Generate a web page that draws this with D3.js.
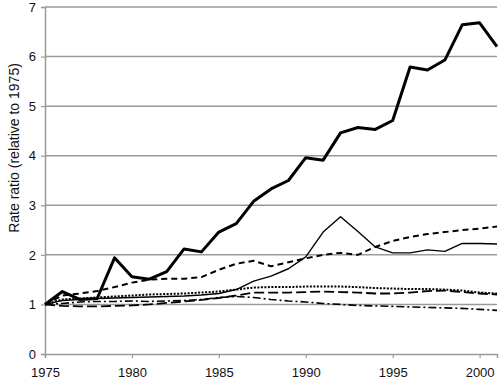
<!DOCTYPE html>
<html>
<head>
<meta charset="utf-8">
<script src="https://cdn.jsdelivr.net/npm/d3@7"></script>
<style>
  body { margin: 0; background: #fff; }
  text { font-family: "Liberation Sans", Arial, sans-serif; }
</style>
</head>
<body>
<script>
  var width = 500;
  var height = 385;

  var years = d3.range(1975, 2002);
  var yTicks = [0, 1, 2, 3, 4, 5, 6, 7];
  var xTicks = [1975, 1980, 1985, 1990, 1995, 2000];

  // series, one value per year 1975..2001
  var thickSolid = [1.0, 1.26, 1.1, 1.12, 1.94, 1.56, 1.51, 1.66, 2.12, 2.06, 2.46, 2.63, 3.08, 3.33, 3.5, 3.96, 3.91, 4.46, 4.57, 4.53, 4.71, 5.79, 5.73, 5.93, 6.64, 6.68, 6.2];
  var thinSolid = [1.0, 1.08, 1.1, 1.12, 1.13, 1.14, 1.15, 1.16, 1.17, 1.19, 1.22, 1.3, 1.47, 1.57, 1.72, 1.96, 2.46, 2.77, 2.47, 2.16, 2.04, 2.04, 2.1, 2.07, 2.23, 2.23, 2.22];
  var dashed = [1.0, 1.18, 1.22, 1.27, 1.35, 1.44, 1.5, 1.52, 1.52, 1.55, 1.7, 1.82, 1.88, 1.77, 1.85, 1.93, 2.0, 2.04, 2.0, 2.16, 2.28, 2.36, 2.42, 2.46, 2.5, 2.53, 2.57];
  var dotted = [1.0, 1.1, 1.12, 1.14, 1.16, 1.18, 1.2, 1.21, 1.22, 1.24, 1.26, 1.3, 1.34, 1.35, 1.35, 1.36, 1.36, 1.36, 1.35, 1.33, 1.32, 1.31, 1.31, 1.3, 1.28, 1.24, 1.22];
  var longDash = [1.0, 0.97, 0.96, 0.96, 0.97, 0.98, 1.0, 1.03, 1.06, 1.09, 1.13, 1.18, 1.24, 1.24, 1.24, 1.25, 1.26, 1.25, 1.24, 1.22, 1.22, 1.24, 1.27, 1.28, 1.25, 1.22, 1.2];
  var dashDot = [1.0, 1.02, 1.05, 1.06, 1.06, 1.07, 1.06, 1.07, 1.08, 1.1, 1.14, 1.16, 1.14, 1.1, 1.07, 1.05, 1.02, 1.0, 0.98, 0.97, 0.96, 0.95, 0.94, 0.93, 0.92, 0.9, 0.88];

  var series = [
    { values: longDash, width: 1.8, dash: "10,4" },
    { values: dashDot, width: 1.6, dash: "8,3,2,3" },
    { values: dotted, width: 2, dash: "2,1.5" },
    { values: thinSolid, width: 1.4, dash: null },
    { values: dashed, width: 2, dash: "6,4" },
    { values: thickSolid, width: 3, dash: null }
  ];

  var x = d3.scaleLinear().domain([1975, 2001]).range([45, 497]);
  var y = d3.scaleLinear().domain([0, 7]).range([354, 7]);

  var svg = d3.select("body")
    .append("svg")
    .attr("width", width)
    .attr("height", height);

  // gridlines
  svg.append("g")
    .selectAll("line")
    .data(yTicks.filter(function(d) { return d > 0; }))
    .enter()
    .append("line")
    .attr("x1", x(1975))
    .attr("x2", x(2001))
    .attr("y1", function(d) { return y(d); })
    .attr("y2", function(d) { return y(d); })
    .style("stroke", "#9a9a9a")
    .style("stroke-width", 1.5);

  var yAxis = d3.axisLeft(y).tickValues(yTicks).tickSize(4).tickFormat(d3.format("d"));
  var gy = svg.append("g")
    .attr("transform", "translate(" + x(1975) + ",0)")
    .call(yAxis);

  var xAxis = d3.axisBottom(x).tickValues(xTicks).tickSize(4).tickFormat(d3.format("d"));
  var gx = svg.append("g")
    .attr("transform", "translate(0," + y(0) + ")")
    .call(xAxis);

  [gx, gy].forEach(function(g) {
    g.select(".domain").style("stroke", "#9a9a9a").style("stroke-width", 1.5);
    g.selectAll(".tick line").style("stroke", "#9a9a9a").style("stroke-width", 1.2);
    g.selectAll(".tick text")
      .style("font-size", "13px")
      .style("fill", "#111");
  });
  gy.selectAll(".tick text").attr("x", -9);
  gx.selectAll(".tick text").attr("y", 14);

  svg.append("text")
    .attr("transform", "translate(19,148) rotate(-90)")
    .attr("text-anchor", "middle")
    .style("font-size", "14px")
    .style("fill", "#111")
    .text("Rate ratio (relative to 1975)");

  var line = d3.line()
    .x(function(d, i) { return x(years[i]); })
    .y(function(d) { return y(d); });

  svg.append("g")
    .selectAll("path")
    .data(series)
    .enter()
    .append("path")
    .attr("d", function(d) { return line(d.values); })
    .style("fill", "none")
    .style("stroke", "#000")
    .style("stroke-linejoin", "round")
    .style("stroke-width", function(d) { return d.width; })
    .style("stroke-dasharray", function(d) { return d.dash; });
</script>
</body>
</html>
